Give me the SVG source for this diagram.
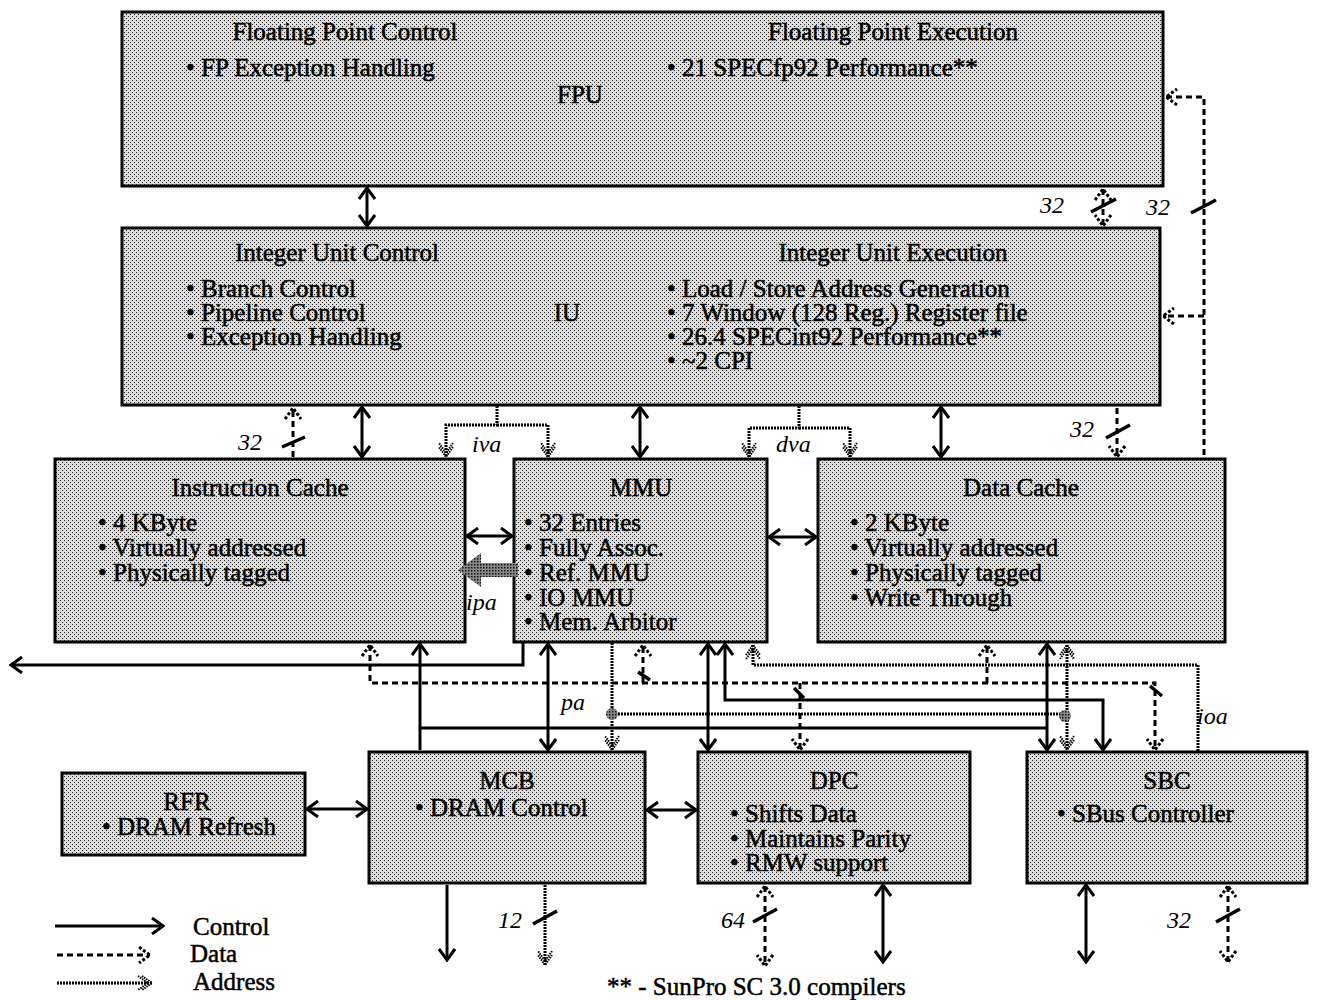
<svg xmlns="http://www.w3.org/2000/svg" width="1325" height="1000" viewBox="0 0 1325 1000">
<style>
.box{fill:url(#dots);stroke:#000;stroke-width:3}
text{font-family:"Liberation Serif","Times New Roman",serif;fill:#000}
.t{font-size:25px;stroke:#000;stroke-width:0.5}
.c{text-anchor:middle}
.lbl{font-size:24px;font-style:italic}
.ctl{fill:none;stroke:#000;stroke-width:3}
.dat{fill:none;stroke:#000;stroke-width:3;stroke-dasharray:6 4}
.adr{fill:none;stroke:#000;stroke-width:3;stroke-dasharray:2 1}
.sl{stroke:#000;stroke-width:3.5}
</style>
<defs>
<pattern id="dots" width="4" height="4" patternUnits="userSpaceOnUse">
<rect width="4" height="4" fill="#dcdcdc"/>
<rect x="0" y="0" width="1" height="1" fill="#222"/>
<rect x="2" y="2" width="1" height="1" fill="#222"/>
</pattern>
<pattern id="dark" width="3" height="3" patternUnits="userSpaceOnUse">
<rect width="3" height="3" fill="#888"/>
<rect x="0" y="0" width="1.5" height="1.5" fill="#111"/>
</pattern>
<marker id="ac" viewBox="-13 -9 15 18" markerWidth="15" markerHeight="18" refX="0" refY="0" orient="auto-start-reverse" markerUnits="userSpaceOnUse">
<path d="M-11,-8 L0,0 L-11,8" fill="none" stroke="#000" stroke-width="3"/>
</marker>
<marker id="ad" viewBox="-13 -9 15 18" markerWidth="15" markerHeight="18" refX="0" refY="0" orient="auto-start-reverse" markerUnits="userSpaceOnUse">
<path d="M-11,-8 L0,0 L-11,8" fill="none" stroke="#000" stroke-width="3" stroke-dasharray="3 2"/>
</marker>
<marker id="aa" viewBox="-15 -9 17 18" markerWidth="17" markerHeight="18" refX="0" refY="0" orient="auto-start-reverse" markerUnits="userSpaceOnUse">
<path d="M-10,-7 L0,0 L-10,7 M-14,-7 L-4,0 L-14,7" fill="none" stroke="#000" stroke-width="2" stroke-dasharray="1.5 1"/>
</marker>
</defs>

<g id="fpu">
<rect class="box" x="122" y="12" width="1041" height="174"/>
<text class="t c" x="345" y="40">Floating Point Control</text>
<text class="t c" x="893" y="40">Floating Point Execution</text>
<text class="t" x="186" y="76">• FP Exception Handling</text>
<text class="t" x="667" y="76">• 21 SPECfp92 Performance**</text>
<text class="t c" x="580" y="103">FPU</text>
</g>

<g id="iu">
<rect class="box" x="122" y="228" width="1038" height="177"/>
<text class="t c" x="337" y="261">Integer Unit Control</text>
<text class="t c" x="893" y="261">Integer Unit Execution</text>
<text class="t" x="186" y="297">• Branch Control</text>
<text class="t" x="186" y="321">• Pipeline Control</text>
<text class="t" x="186" y="345">• Exception Handling</text>
<text class="t c" x="567" y="321">IU</text>
<text class="t" x="667" y="297">• Load / Store Address Generation</text>
<text class="t" x="667" y="321">• 7 Window (128 Reg.) Register file</text>
<text class="t" x="667" y="345">• 26.4 SPECint92 Performance**</text>
<text class="t" x="667" y="369">• ~2 CPI</text>
</g>

<g id="icache">
<rect class="box" x="55" y="459" width="410" height="183"/>
<text class="t c" x="260" y="496">Instruction Cache</text>
<text class="t" x="98" y="531">• 4 KByte</text>
<text class="t" x="98" y="556">• Virtually addressed</text>
<text class="t" x="98" y="581">• Physically tagged</text>
</g>

<g id="mmu">
<rect class="box" x="514" y="459" width="253" height="183"/>
<text class="t c" x="641" y="496">MMU</text>
<text class="t" x="524" y="531">• 32 Entries</text>
<text class="t" x="524" y="556">• Fully Assoc.</text>
<text class="t" x="524" y="581">• Ref. MMU</text>
<text class="t" x="524" y="606">• IO MMU</text>
<text class="t" x="524" y="630">• Mem. Arbitor</text>
</g>

<g id="dcache">
<rect class="box" x="818" y="459" width="407" height="183"/>
<text class="t c" x="1021" y="496">Data Cache</text>
<text class="t" x="850" y="531">• 2 KByte</text>
<text class="t" x="850" y="556">• Virtually addressed</text>
<text class="t" x="850" y="581">• Physically tagged</text>
<text class="t" x="850" y="606">• Write Through</text>
</g>

<g id="rfr">
<rect class="box" x="62" y="773" width="243" height="82"/>
<text class="t c" x="187" y="810">RFR</text>
<text class="t c" x="189" y="835">• DRAM Refresh</text>
</g>

<g id="mcb">
<rect class="box" x="369" y="752" width="276" height="131"/>
<text class="t c" x="507" y="789">MCB</text>
<text class="t" x="415" y="816">• DRAM Control</text>
</g>

<g id="dpc">
<rect class="box" x="698" y="752" width="272" height="131"/>
<text class="t c" x="834" y="789">DPC</text>
<text class="t" x="730" y="822">• Shifts Data</text>
<text class="t" x="730" y="847">• Maintains Parity</text>
<text class="t" x="730" y="871">• RMW support</text>
</g>

<g id="sbc">
<rect class="box" x="1027" y="752" width="280" height="131"/>
<text class="t c" x="1167" y="789">SBC</text>
<text class="t" x="1057" y="822">• SBus Controller</text>
</g>

<g id="connectors">
<line class="ctl" x1="367" y1="188" x2="367" y2="226" marker-start="url(#ac)" marker-end="url(#ac)"/>
<line class="ctl" x1="362" y1="407" x2="362" y2="457" marker-start="url(#ac)" marker-end="url(#ac)"/>
<line class="ctl" x1="640" y1="407" x2="640" y2="457" marker-start="url(#ac)" marker-end="url(#ac)"/>
<line class="ctl" x1="941" y1="407" x2="941" y2="457" marker-start="url(#ac)" marker-end="url(#ac)"/>
<line class="ctl" x1="467" y1="536" x2="512" y2="536" marker-start="url(#ac)" marker-end="url(#ac)"/>
<line class="ctl" x1="769" y1="537" x2="816" y2="537" marker-start="url(#ac)" marker-end="url(#ac)"/>
<polyline class="ctl" points="523,643 523,665 11,665" marker-end="url(#ac)"/>
<line class="ctl" x1="420" y1="750" x2="420" y2="644" marker-end="url(#ac)"/>
<line class="ctl" x1="420" y1="728" x2="1047" y2="728"/>
<line class="ctl" x1="1047" y1="644" x2="1047" y2="750" marker-start="url(#ac)" marker-end="url(#ac)"/>
<line class="ctl" x1="548" y1="644" x2="548" y2="750" marker-start="url(#ac)" marker-end="url(#ac)"/>
<line class="ctl" x1="708" y1="644" x2="708" y2="750" marker-start="url(#ac)" marker-end="url(#ac)"/>
<polyline class="ctl" points="725,644 725,700 1103,700 1103,750" marker-start="url(#ac)" marker-end="url(#ac)"/>
<line class="ctl" x1="307" y1="809" x2="367" y2="809" marker-start="url(#ac)" marker-end="url(#ac)"/>
<line class="ctl" x1="647" y1="810" x2="696" y2="810" marker-start="url(#ac)" marker-end="url(#ac)"/>
<line class="ctl" x1="447" y1="885" x2="447" y2="960" marker-end="url(#ac)"/>
<line class="ctl" x1="883" y1="885" x2="883" y2="962" marker-start="url(#ac)" marker-end="url(#ac)"/>
<line class="ctl" x1="1086" y1="885" x2="1086" y2="962" marker-start="url(#ac)" marker-end="url(#ac)"/>

<line class="dat" x1="1103" y1="189" x2="1103" y2="226" marker-start="url(#ad)" marker-end="url(#ad)"/>
<polyline class="dat" points="1166,97 1204,97 1204,459" marker-start="url(#ad)"/>
<line class="dat" x1="1204" y1="316" x2="1163" y2="316" marker-end="url(#ad)"/>
<line class="dat" x1="1117" y1="408" x2="1117" y2="457" marker-end="url(#ad)"/>
<line class="dat" x1="293" y1="457" x2="293" y2="408" marker-end="url(#ad)"/>
<polyline class="dat" points="370,645 370,683 1155,683 1155,750" marker-start="url(#ad)" marker-end="url(#ad)"/>
<line class="dat" x1="643" y1="683" x2="643" y2="645" marker-end="url(#ad)"/>
<line class="dat" x1="987" y1="683" x2="987" y2="645" marker-end="url(#ad)"/>
<line class="dat" x1="800" y1="683" x2="800" y2="750" marker-end="url(#ad)"/>
<line class="dat" x1="765" y1="886" x2="765" y2="966" marker-start="url(#ad)" marker-end="url(#ad)"/>
<line class="dat" x1="1228" y1="886" x2="1228" y2="962" marker-start="url(#ad)" marker-end="url(#ad)"/>

<polyline class="adr" points="497,406 497,425 446,425 446,457" marker-end="url(#aa)"/>
<polyline class="adr" points="497,425 548,425 548,457" marker-end="url(#aa)"/>
<polyline class="adr" points="799,406 799,428 749,428 749,457" marker-end="url(#aa)"/>
<polyline class="adr" points="799,428 850,428 850,457" marker-end="url(#aa)"/>
<line class="adr" x1="612" y1="643" x2="612" y2="750" marker-end="url(#aa)"/>
<line class="adr" x1="612" y1="714" x2="1066" y2="714"/>
<line class="adr" x1="1067" y1="645" x2="1067" y2="750" marker-start="url(#aa)" marker-end="url(#aa)"/>
<polyline class="adr" points="1198,751 1198,665 753,665 753,645" marker-end="url(#aa)"/>
<line class="adr" x1="545" y1="885" x2="545" y2="965" marker-end="url(#aa)"/>
<circle cx="612" cy="714" r="6" fill="url(#dark)"/>
<circle cx="1065" cy="716" r="6" fill="url(#dark)"/>
<polygon points="518,563 481,563 481,553 458,570 481,587 481,577 518,577" fill="url(#dark)"/>

<line class="sl" x1="1091" y1="212" x2="1116" y2="199"/>
<line class="sl" x1="1191" y1="213" x2="1216" y2="200"/>
<line class="sl" x1="282" y1="447" x2="305" y2="437"/>
<line class="sl" x1="1106" y1="438" x2="1130" y2="425"/>
<line class="sl" x1="533" y1="924" x2="557" y2="911"/>
<line class="sl" x1="753" y1="922" x2="777" y2="909"/>
<line class="sl" x1="1216" y1="922" x2="1240" y2="909"/>
<line class="sl" x1="794" y1="688" x2="804" y2="698"/>
<line class="sl" x1="638" y1="672" x2="650" y2="680"/>
<line class="sl" x1="1150" y1="686" x2="1162" y2="696"/>

<text class="lbl" x="1040" y="213">32</text>
<text class="lbl" x="1146" y="215">32</text>
<text class="lbl" x="238" y="450">32</text>
<text class="lbl" x="1070" y="437">32</text>
<text class="lbl" x="472" y="452">iva</text>
<text class="lbl" x="776" y="452">dva</text>
<text class="lbl" x="466" y="610">ipa</text>
<text class="lbl" x="561" y="710">pa</text>
<text class="lbl" x="1197" y="724">ioa</text>
<text class="lbl" x="498" y="928">12</text>
<text class="lbl" x="721" y="928">64</text>
<text class="lbl" x="1167" y="928">32</text>
</g>

<g id="legend">
<line class="ctl" x1="55" y1="926" x2="163" y2="926" marker-end="url(#ac)"/>
<text class="t" x="193" y="935">Control</text>
<line class="dat" x1="57" y1="955" x2="150" y2="955" marker-end="url(#ad)"/>
<text class="t" x="190" y="962">Data</text>
<line class="adr" x1="57" y1="983" x2="152" y2="983" marker-end="url(#aa)"/>
<text class="t" x="193" y="990">Address</text>
<text class="t" x="607" y="995">** - SunPro SC 3.0 compilers</text>
</g>
</svg>
